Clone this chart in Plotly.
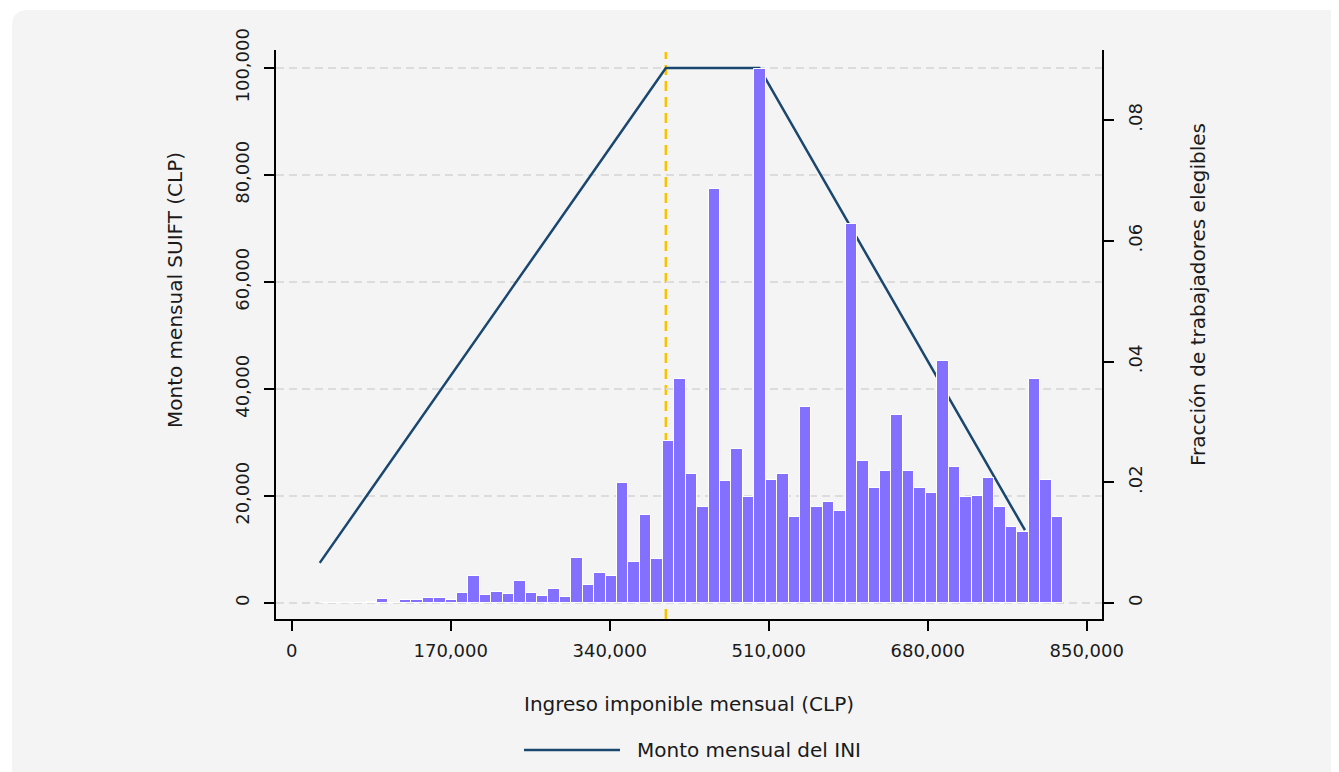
import numpy as np
import plotly.graph_objects as go

# ---------------- data ----------------
income_min = 30000          # lower edge of the first histogram bin (CLP)
bin_width = 12225           # histogram bin width (CLP)
fraction = [
    0.00005, 0.00003, 0.00002, 0.00005, 0.0002, 0.00066, 0.00005, 0.0005,
    0.00045, 0.0008, 0.0008, 0.0005, 0.00166, 0.0045, 0.00137, 0.00187,
    0.00154, 0.00364, 0.0016, 0.00121, 0.00237, 0.00094, 0.00745, 0.00298,
    0.00497, 0.00442, 0.01987, 0.00674, 0.01457, 0.00724, 0.02678, 0.03705,
    0.02136, 0.01595, 0.0686, 0.02026, 0.02545, 0.01755, 0.0884, 0.02042,
    0.02141, 0.01419, 0.0324, 0.01595, 0.01673, 0.01524, 0.0627, 0.02347,
    0.0191, 0.02191, 0.03119, 0.02186, 0.0191, 0.01822, 0.04007, 0.02247,
    0.0176, 0.01767, 0.02065, 0.0159, 0.01264, 0.01181, 0.03714, 0.02042,
    0.01424,
]
line_income = [30000, 400000, 500000, 784000]
line_amount = [7500, 100000, 100000, 13600]
min_wage = 400000

x_ticks = [0, 170000, 340000, 510000, 680000, 850000]
x_ticklabels = ["0", "170,000", "340,000", "510,000", "680,000", "850,000"]
y_ticks = [0, 20000, 40000, 60000, 80000, 100000]
y_ticklabels = ["0", "20,000", "40,000", "60,000", "80,000", "100,000"]
y2_ticks = [0, 0.02, 0.04, 0.06, 0.08]
y2_ticklabels = ["0", ".02", ".04", ".06", ".08"]

x_title = "Ingreso imponible mensual (CLP)"
y_title = "Monto mensual SUIFT (CLP)"
y2_title = "Fracción de trabajadores elegibles"
legend_label = "Monto mensual del INI"

# ---------------- styling ----------------
W, H = 1339, 772
OFF = 8  # page body margin
L, R, T, B = 276 - OFF, 1102 - OFF, 50 - OFF, 619 - OFF  # plot area in figure pixels
FONT = "DejaVu Sans, Inter, sans-serif"
TXT = "#1a1a1a"
BG = "#f4f4f4"
NAVY = "#1a476f"
BAR = "#8470ff"
GOLD = "#ffc000"
FS = 20      # titles / legend
FT = 18      # tick labels

bin_centers = income_min + bin_width * (np.arange(len(fraction)) + 0.5)

def px_x(px):  # reference-screen px -> paper
    return (px - OFF - L) / (R - L)

def px_y(py):
    return (B - (py - OFF)) / (B - T)

fig = go.Figure()
fig.add_trace(go.Scatter(
    x=line_income, y=line_amount, mode="lines",
    line=dict(color=NAVY, width=2.5), name=legend_label,
    yaxis="y", showlegend=False,
))
fig.add_trace(go.Bar(
    x=bin_centers, y=fraction, width=bin_width,
    marker=dict(color=BAR, line=dict(color="white", width=1)),
    yaxis="y2", showlegend=False,
))

# rounded gray card
x0, x1 = px_x(12), px_x(1380)
y0, y1 = px_y(10), px_y(800)
rx, ry = 16 / (R - L), 16 / (B - T)
path = (f"M {x0 + rx},{y0} L {x1},{y0} L {x1},{y1} L {x0},{y1} L {x0},{y0 - ry} "
        f"Q {x0},{y0} {x0 + rx},{y0} Z")

shapes = [
    dict(type="path", xref="paper", yref="paper", path=path,
         fillcolor=BG, line=dict(width=0), layer="below"),
    dict(type="line", xref="x", yref="paper", x0=min_wage, x1=min_wage,
         y0=0, y1=px_y(52), line=dict(color=GOLD, width=2.5, dash="10px,6px"),
         layer="below"),
    dict(type="line", xref="paper", yref="paper", x0=px_x(524), x1=px_x(620),
         y0=px_y(750), y1=px_y(750), line=dict(color=NAVY, width=2.5)),
]

annotations = [
    dict(xref="paper", yref="paper", x=px_x(635), y=px_y(750), text=legend_label,
         showarrow=False, xanchor="left", yanchor="middle",
         font=dict(family=FONT, size=FS, color=TXT)),
    dict(xref="paper", yref="paper", x=px_x(175), y=px_y(290), text=y_title,
         showarrow=False, xanchor="center", yanchor="middle", textangle=-90,
         font=dict(family=FONT, size=FS, color=TXT)),
    dict(xref="paper", yref="paper", x=px_x(1198), y=px_y(295), text=y2_title,
         showarrow=False, xanchor="center", yanchor="middle", textangle=-90,
         font=dict(family=FONT, size=FS, color=TXT)),
]

x_per_px = 170000 / 159.0
x_zero_px = 291.7 - OFF
y_per_px = 100000 / 535.0
y2_per_px = 0.08 / 483.0
y_zero_px = 603 - OFF

fig.update_layout(
    width=W, height=H,
    margin=dict(l=L, r=W - R, t=T, b=H - B, pad=0),
    paper_bgcolor="white", plot_bgcolor=BG,
    font=dict(family=FONT, size=FS, color=TXT),
    bargap=0, showlegend=False,
    shapes=shapes, annotations=annotations,
    xaxis=dict(
        range=[(L - x_zero_px) * x_per_px, (R - x_zero_px) * x_per_px],
        tickvals=x_ticks, ticktext=x_ticklabels,
        showgrid=False, zeroline=False,
        showline=True, linecolor="black", linewidth=1.5,
        ticks="outside", ticklen=10, tickwidth=1.5, tickcolor="black",
        ticklabelstandoff=5,
        tickfont=dict(size=FT),
        title=dict(text=x_title, standoff=37, font=dict(size=FS)),
    ),
    yaxis=dict(
        range=[-(B - y_zero_px) * y_per_px, (y_zero_px - T) * y_per_px],
        tickvals=y_ticks, ticktext=y_ticklabels, tickangle=-90,
        showgrid=True, gridcolor="#dcdcdc", gridwidth=1.5, griddash="8px,5px",
        zeroline=False,
        showline=True, linecolor="black", linewidth=1.5,
        ticks="outside", ticklen=10, tickwidth=1.5, tickcolor="black",
        ticklabelstandoff=8,
        tickfont=dict(size=FT),
    ),
    yaxis2=dict(
        range=[-(B - y_zero_px) * y2_per_px, (y_zero_px - T) * y2_per_px],
        overlaying="y", side="right",
        tickvals=y2_ticks, ticktext=y2_ticklabels, tickangle=-90,
        showgrid=False, zeroline=False,
        showline=True, linecolor="black", linewidth=1.5,
        ticks="outside", ticklen=10, tickwidth=1.5, tickcolor="black",
        ticklabelstandoff=7,
        tickfont=dict(size=FT),
    ),
)

fig.write_html("out.html")
